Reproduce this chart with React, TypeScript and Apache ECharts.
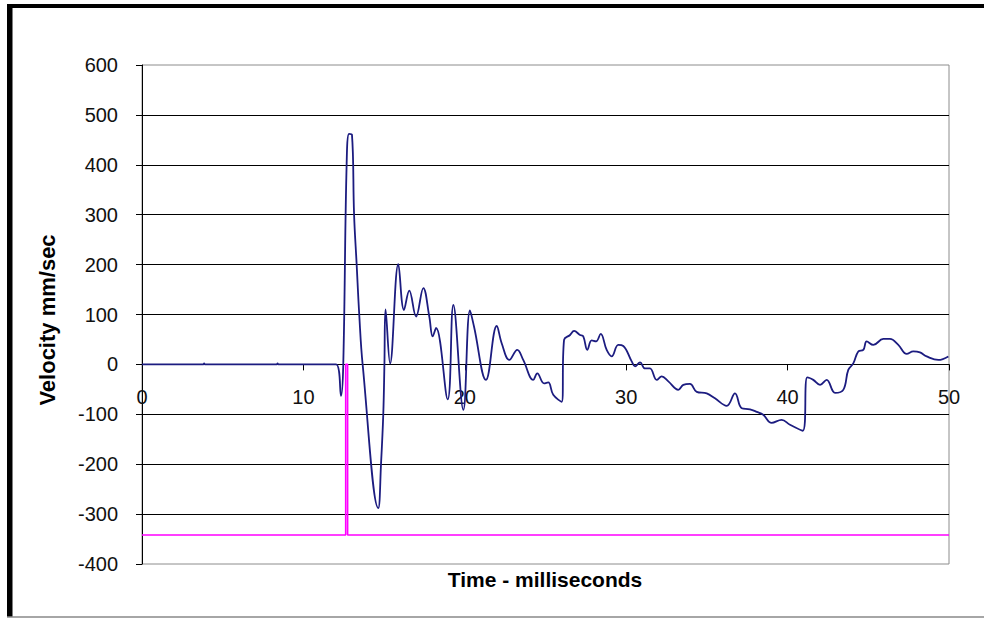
import React, { useEffect, useRef } from "react";
import * as echarts from "echarts";

// Time (ms) and velocity (mm/sec) of the measured trace
const timeMs: number[] = [
  0, 3.8, 3.85, 3.9, 8.35, 8.4, 8.45, 12.02, 12.33, 12.47, 12.68, 12.83, 13.01, 13.14, 13.3, 13.46, 13.67,
  14.64, 14.81, 14.95, 15.02, 15.09, 15.37, 15.88, 16.23, 16.56, 16.98, 17.43, 17.8, 18.01, 18.22,
  18.94, 19.29, 19.91, 20.32, 20.57, 21.31, 21.98, 22.29, 22.76, 23.25, 23.62, 24.24, 24.49, 24.91,
  25.17, 25.48, 26.0, 26.15, 26.52, 26.77, 27.14, 27.34, 27.59, 27.86, 28.13, 28.42, 28.79, 29.1,
  29.51, 29.82, 30.34, 30.55, 30.86, 31.16, 31.47, 31.89, 32.2, 32.61, 33.23, 33.54, 33.95, 34.37,
  34.99, 35.5, 36.23, 36.74, 37.16, 37.67, 38.09, 38.49, 39.01, 39.63, 40.15, 40.94, 41.22, 41.59,
  42.01, 42.42, 42.94, 43.45, 43.76, 44.07, 44.38, 44.69, 44.9, 45.31, 45.93, 46.34, 46.86, 47.38,
  47.79, 48.2, 48.62, 49.34, 49.96,
];
const velocity: number[] = [
  0, 0, 2, 0, 0, 2, 0, 0, -63, 0, 403, 462, 460, 300, 200, 100, 0,
  -288, -199, -99, 0, 110, 2, 201, 109, 148, 96, 153, 96, 56, 73,
  -70, 119, -91, 108, 76, -31, 77, 42, 9, 29, 9, -31, -18, -38,
  -36, -61, -75, 49, 59, 67, 59, 56, 29, 48, 46, 61, 29, 16,
  39, 37, 6, -4, 4, -8, -8, -31, -24, -34, -51, -41, -39, -55,
  -58, -68, -83, -58, -88, -90, -95, -101, -117, -111, -121, -133, -26, -31,
  -41, -31, -57, -51, -11, 2, 26, 29, 46, 39, 51, 51, 39, 21,
  26, 24, 16, 9, 16,
];

// Trigger (pink) trace
const triggerTime: number[] = [0, 12.62, 12.62, 12.74, 12.74, 50];
const triggerValue: number[] = [-342, -342, 0, 0, -342, -342];

const xTicks = { min: 0, max: 50, interval: 10 };
const yTicks = { min: -400, max: 600, interval: 100 };

const xTitle = "Time - milliseconds";
const yTitle = "Velocity mm/sec";

const FONT = '"Liberation Sans", Arial, sans-serif';

const GRID_TOP = 65;
const GRID_BOTTOM_PX = 564;

export default function App() {
  const ref = useRef<HTMLDivElement>(null);
  useEffect(() => {
    if (!ref.current) return;
    const chart = echarts.init(ref.current, undefined, { renderer: "svg" });
    const velData = timeMs.map((t, i) => [t, velocity[i]]);
    const trigData = triggerTime.map((t, i) => [t, triggerValue[i]]);
    // shift the x axis up so that it crosses the y axis at value 0
    const plotH = GRID_BOTTOM_PX - GRID_TOP;
    const zeroOffset = -((0 - yTicks.min) / (yTicks.max - yTicks.min)) * plotH;
    chart.setOption({
      animation: false,
      backgroundColor: "#ffffff",
      grid: {
        left: 142,
        right: 35,
        top: GRID_TOP,
        bottom: 619 - GRID_BOTTOM_PX,
        show: true,
        borderColor: "#8c8c8c",
        borderWidth: 1,
        backgroundColor: "transparent",
      },
      xAxis: {
        type: "value",
        min: xTicks.min,
        max: xTicks.max,
        interval: xTicks.interval,
        position: "bottom",
        offset: zeroOffset,
        axisLine: { show: true, onZero: false, lineStyle: { color: "#000", width: 1 } },
        axisTick: { show: true, length: 6, lineStyle: { color: "#000" } },
        axisLabel: { margin: 23, fontSize: 20, color: "#111", fontFamily: FONT },
        splitLine: { show: false },
      },
      yAxis: {
        type: "value",
        min: yTicks.min,
        max: yTicks.max,
        interval: yTicks.interval,
        axisLine: { show: true, onZero: false, lineStyle: { color: "#000", width: 1 } },
        axisTick: { show: true, length: 6, lineStyle: { color: "#000" } },
        axisLabel: { margin: 24, fontSize: 20, color: "#111", fontFamily: FONT },
        splitLine: {
          show: true,
          showMinLine: false,
          showMaxLine: false,
          lineStyle: { color: "#000", width: 1 },
        },
      },
      graphic: [
        { type: "rect", shape: { x: 7, y: 4, width: 977, height: 4 }, style: { fill: "#000" } },
        { type: "rect", shape: { x: 7, y: 4, width: 5.5, height: 613 }, style: { fill: "#000" } },
        { type: "line", shape: { x1: 7, y1: 617, x2: 984, y2: 617 }, style: { stroke: "#888", lineWidth: 1.5 } },
        {
          type: "text",
          x: 545,
          y: 579,
          style: { text: xTitle, font: `bold 21px ${FONT}`, fill: "#000", align: "center", verticalAlign: "middle" },
        },
        {
          type: "text",
          x: 47,
          y: 320,
          rotation: Math.PI / 2,
          style: { text: yTitle, font: `bold 22px ${FONT}`, fill: "#000", align: "center", verticalAlign: "middle" },
        },
      ],
      series: [
        {
          type: "line",
          data: velData,
          showSymbol: false,
          smooth: 0.4,
          lineStyle: { color: "#1c1c80", width: 1.8 },
          z: 3,
        },
        {
          type: "line",
          data: trigData,
          showSymbol: false,
          lineStyle: { color: "#ff00ff", width: 1.6 },
          z: 4,
        },
      ],
    });
    return () => chart.dispose();
  }, []);
  return (
    <div
      ref={ref}
      style={{ position: "fixed", left: 0, top: 0, width: 984, height: 619, background: "#fff" }}
    />
  );
}
